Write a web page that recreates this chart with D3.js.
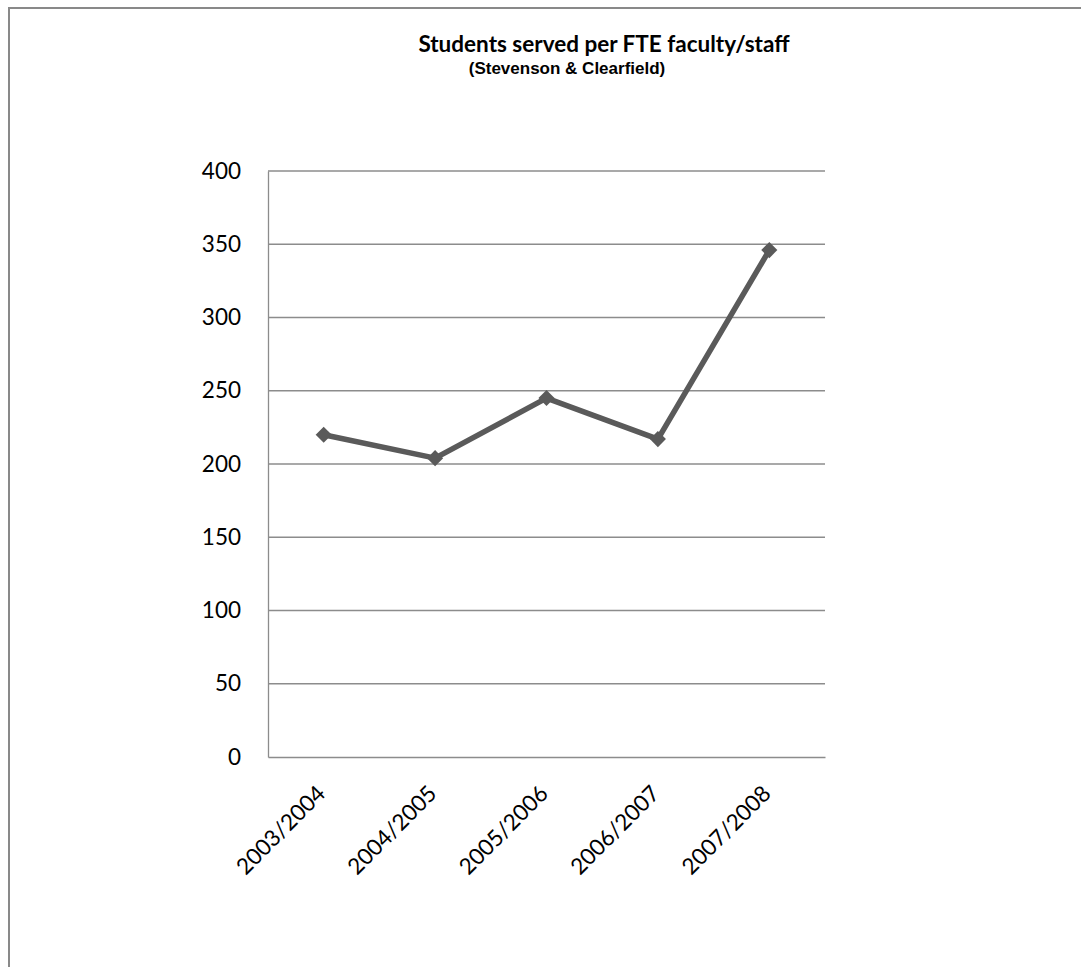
<!DOCTYPE html>
<html>
<head>
<meta charset="utf-8">
<script src="https://cdn.jsdelivr.net/npm/d3@7"></script>
<style>
  html, body { margin: 0; padding: 0; background: #fff; }
  svg { display: block; }
</style>
</head>
<body>
<svg id="chart" width="1081" height="967"></svg>
<script>
// Students served per FTE faculty/staff, by school year
const years = ["2003/2004", "2004/2005", "2005/2006", "2006/2007", "2007/2008"];
const studentsPerFTE = [220, 204, 245, 217, 346];
const yTicks = [0, 50, 100, 150, 200, 250, 300, 350, 400];

const svg = d3.select("#chart");
const W = 1081, H = 967;
const plot = { left: 268, right: 825, top: 171, bottom: 757 };
const labelFont = "Lato, 'Open Sans', sans-serif";

// chart frame (continues past the right and bottom edges)
svg.append("rect")
  .attr("x", 9).attr("y", 8)
  .attr("width", W + 20).attr("height", H + 20)
  .attr("fill", "#fff")
  .attr("stroke", "#898989")
  .attr("stroke-width", 2);

const x = d3.scaleBand().domain(years).range([plot.left, plot.right]);
const y = d3.scaleLinear().domain([0, 400]).range([plot.bottom, plot.top]);

// horizontal gridlines
svg.append("g")
  .selectAll("line")
  .data(yTicks.filter(t => t > 0))
  .join("line")
  .attr("x1", plot.left).attr("x2", plot.right)
  .attr("y1", d => y(d)).attr("y2", d => y(d))
  .attr("stroke", "#8c8c8c")
  .attr("stroke-width", 1.3);

// y axis
const yAxis = svg.append("g")
  .attr("transform", `translate(${plot.left},0)`)
  .call(d3.axisLeft(y).tickValues(yTicks).tickSize(0).tickPadding(27));
yAxis.select(".domain").attr("stroke", "#8c8c8c").attr("stroke-width", 1.3);
yAxis.selectAll("text")
  .attr("font-family", labelFont)
  .attr("font-size", 22.5)
  .attr("fill", "#000");

// x axis, labels slanted up to the right
const xAxis = svg.append("g")
  .attr("transform", `translate(0,${plot.bottom})`)
  .call(d3.axisBottom(x).tickSize(0).tickPadding(0));
xAxis.select(".domain").attr("stroke", "#8c8c8c").attr("stroke-width", 1.3);
xAxis.selectAll("text")
  .attr("font-family", labelFont)
  .attr("font-size", 22.5)
  .attr("fill", "#000")
  .attr("text-anchor", "end")
  .attr("dy", "0")
  .attr("transform", "translate(3,38) rotate(-45)");

// series line
const line = d3.line()
  .x((d, i) => x(years[i]) + x.bandwidth() / 2)
  .y(d => y(d));

svg.append("path")
  .datum(studentsPerFTE)
  .attr("d", line)
  .attr("fill", "none")
  .attr("stroke", "#5a5a5a")
  .attr("stroke-width", 5.5)
  .attr("stroke-linejoin", "round");

// diamond markers
const diamond = d3.symbol().type(d3.symbolDiamond2).size(165);
svg.append("g")
  .selectAll("path")
  .data(studentsPerFTE)
  .join("path")
  .attr("d", diamond)
  .attr("transform", (d, i) => `translate(${x(years[i]) + x.bandwidth() / 2},${y(d)})`)
  .attr("fill", "#5a5a5a");

// titles
svg.append("text")
  .attr("x", 604).attr("y", 52)
  .attr("text-anchor", "middle")
  .attr("font-family", labelFont)
  .attr("font-weight", "bold")
  .attr("font-size", 22.5)
  .text("Students served per FTE faculty/staff");

svg.append("text")
  .attr("x", 567).attr("y", 74)
  .attr("text-anchor", "middle")
  .attr("font-family", "'Liberation Sans', Arial, sans-serif")
  .attr("font-weight", "bold")
  .attr("font-size", 17)
  .text("(Stevenson & Clearfield)");
</script>
</body>
</html>
